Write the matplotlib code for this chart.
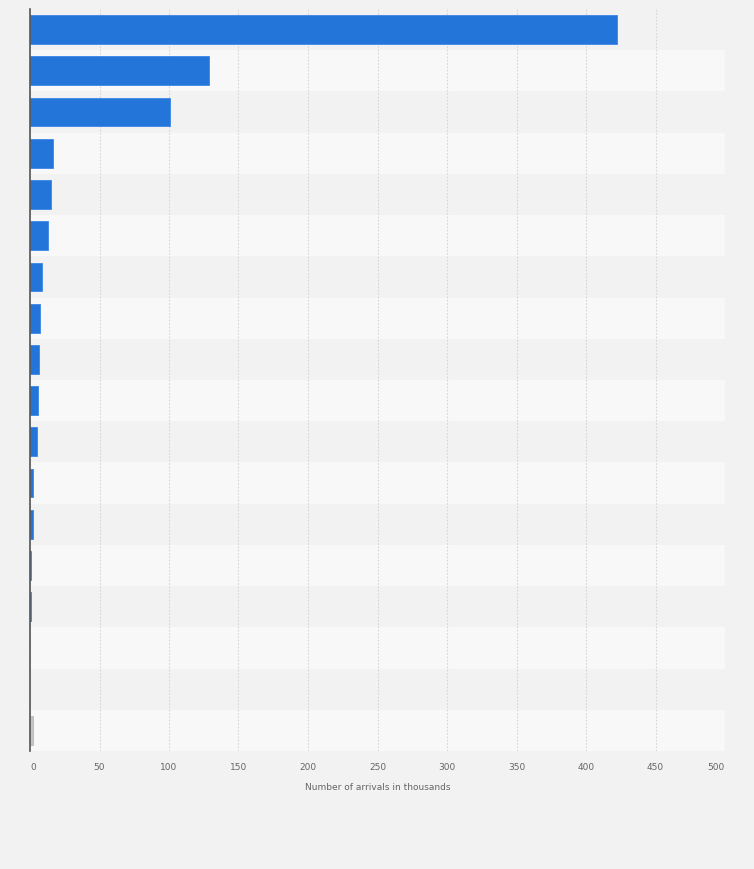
import matplotlib.pyplot as plt
import numpy as np

# arrivals in thousands, top row first (last row is the grey "other" bar)
arrivals = [422, 128.5, 101, 16.8, 15.3, 13.2, 8.8, 7.2, 6.7, 5.8, 4.8,
            1.9, 1.9, 0.8, 0.8, 0, 0, 1.9]
is_other = [False] * 17 + [True]
x_ticks = [0, 50, 100, 150, 200, 250, 300, 350, 400, 450, 500]

fig = plt.figure(figsize=(7.54, 8.7), dpi=100)
fig.patch.set_facecolor("#f2f2f2")
ax = fig.add_axes([30 / 754, 1 - 752 / 870, 695 / 754, 742 / 870])
ax.set_facecolor("#f2f2f2")

n = len(arrivals)
y = np.arange(n)

# alternating row bands
for i in range(n):
    ax.axhspan(i - 0.5, i + 0.5, color="#f2f2f2" if i % 2 == 0 else "#f8f8f8",
               lw=0, zorder=0)

colors = ["#c4c4c4" if o else "#2475d9" for o in is_other]
edges = ["#b8b8b8" if o else "#3b86e6" for o in is_other]
widths = [0.6 if v > 0 else 0 for v in arrivals]
ax.barh(y, arrivals, height=0.7, color=colors, edgecolor=edges,
        linewidth=widths, zorder=3)

ax.set_ylim(n - 0.5, -0.5)
ax.set_xlim(0, 500)
ax.set_xticks(x_ticks)
ax.set_xticklabels([str(t) for t in x_ticks])
ax.set_yticks([])
ax.tick_params(axis="x", length=0, pad=8, labelsize=6.5, labelcolor="#666666")
labels = ax.get_xticklabels()
labels[0].set_horizontalalignment("left")
labels[-1].set_horizontalalignment("right")
ax.xaxis.grid(True, linestyle=(0, (1.5, 1.5)), color="#d6d6d6", linewidth=0.8, zorder=1)
ax.set_axisbelow(True)

for s in ["top", "right", "bottom"]:
    ax.spines[s].set_visible(False)
ax.spines["left"].set_color("#555555")
ax.spines["left"].set_linewidth(1.2)
ax.spines["left"].set_zorder(4)

ax.set_xlabel("Number of arrivals in thousands", fontsize=6.5, color="#666666", labelpad=8)

fig.savefig("out.png", dpi=100, facecolor=fig.get_facecolor())
